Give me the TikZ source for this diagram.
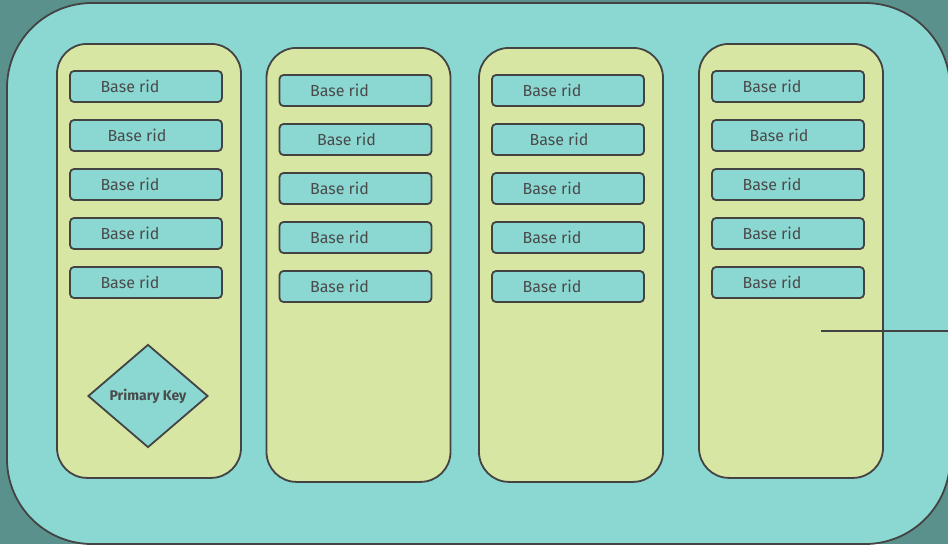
\documentclass[tikz,border=0pt]{standalone}
\usepackage{fontspec}
\setmainfont{Fira Sans}
\usetikzlibrary{shapes.geometric}
\definecolor{bgteal}{HTML}{5A918D}
\definecolor{lightteal}{HTML}{8BD8D3}
\definecolor{paleolive}{HTML}{D8E6A3}
\definecolor{edgegray}{HTML}{434343}
\definecolor{textgray}{HTML}{4A4A4A}
\begin{document}
\begin{tikzpicture}[x=1pt,y=-1pt,
    colbox/.style={draw=edgegray, line width=1.8pt, fill=paleolive, rounded corners=30pt,
      minimum width=184pt, minimum height=434pt, inner sep=0pt, anchor=north},
    ridbox/.style={draw=edgegray, line width=1.8pt, fill=lightteal, rounded corners=4pt,
      minimum width=152pt, minimum height=31pt, inner sep=0pt},
    ridtext/.style={text=textgray, font=\fontsize{16}{18}\selectfont, inner sep=0pt},
    keynode/.style={diamond, draw=edgegray, line width=1.8pt, fill=lightteal, aspect=1.17,
      minimum width=120pt, minimum height=103pt, inner sep=0pt,
      text=textgray, font=\fontsize{14}{16}\selectfont\bfseries}]

    \useasboundingbox (0,0) rectangle (948,544);
    \fill[bgteal] (0,0) rectangle (948,544);
    \draw[edgegray, line width=1.8pt, fill=lightteal, rounded corners=85pt] (7,3) rectangle (950,544);

    % columns with their rid boxes
    \foreach \cx/\cy [count=\c] in {149/43, 358.5/47, 571/47, 791/43} {
        \node[colbox] (col\c) at (\cx,\cy) {};
        \foreach \dx [count=\r] in {-16,-9,-16,-16,-16} {
            \node[ridbox] (rid\c-\r) at (\cx-3,\cy+43.5+49*\r-49) {};
            \node[ridtext] (ridlabel\c-\r) at ([xshift=\dx pt]rid\c-\r.center) {Base rid};
        }
    }

    \node[keynode] (pkey) at (148,396) {Primary Key};

    \coordinate (linestart) at (821,331);
    \coordinate (lineend) at (948,331);
    \draw[edgegray, line width=1.8pt] (linestart) -- (lineend);
\end{tikzpicture}
\end{document}
